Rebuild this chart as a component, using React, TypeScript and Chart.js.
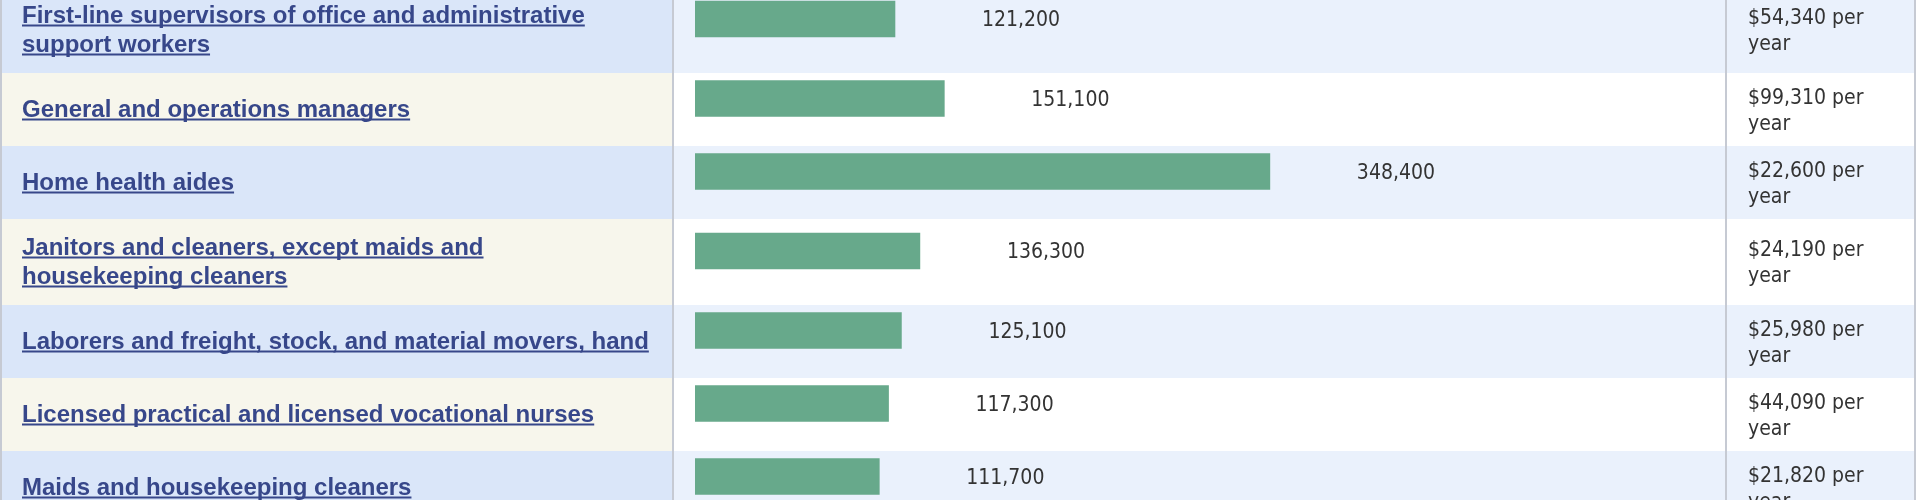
import React, { useEffect, useRef } from "react";
import { Chart, registerables } from "chart.js";

Chart.register(...registerables);

// ---------- DATA ----------
const occupations: string[][] = [
  ["First-line supervisors of office and administrative", "support workers"],
  ["General and operations managers"],
  ["Home health aides"],
  ["Janitors and cleaners, except maids and", "housekeeping cleaners"],
  ["Laborers and freight, stock, and material movers, hand"],
  ["Licensed practical and licensed vocational nurses"],
  ["Maids and housekeeping cleaners"],
];
const employment: number[] = [121200, 151100, 348400, 136300, 125100, 117300, 111700];
const medianWages: string[] = [
  "$54,340 per year",
  "$99,310 per year",
  "$22,600 per year",
  "$24,190 per year",
  "$25,980 per year",
  "$44,090 per year",
  "$21,820 per year",
];

// ---------- LAYOUT / STYLE ----------
const W = 1920;
const H = 500;
const LEFT_COL_END = 673;
const BAR_START = 695;
const RIGHT_COL_START = 1726;
const TABLE_END = 1915;
const X_MAX = 400000;
const PX_PER_UNIT_X = 0.00165;
const ROW_PX = 73; // pixel height of a one-line row (one y unit)
const EXTRA_LINE = 13 / ROW_PX; // additional height per extra label line
const Y_MIN = 13 / ROW_PX; // first row begins slightly above the view
const BAR_LIFT = 11 / ROW_PX; // bar sits a bit above row centre
const LABEL_GAP = 87;

const LEFT_A = "#dae6f9";
const LEFT_B = "#f7f6ec";
const MID_A = "#eaf1fc";
const MID_B = "#ffffff";
const GRID = "#c6cad3";
const BAR = "#67a98b";
const LINK = "#37478a";
const TEXT = "#333333";

const LINK_FONT = 'bold 24px "Liberation Sans", Arial, sans-serif';
const SMALL_FONT = '21px "DejaVu Sans Condensed", "DejaVu Sans", Tahoma, sans-serif';

type Row = { start: number; span: number; center: number };
const rows: Row[] = (() => {
  const out: Row[] = [];
  let s = 0;
  occupations.forEach((lines) => {
    const span = 1 + EXTRA_LINE * (lines.length - 1);
    out.push({ start: s, span, center: s + span / 2 });
    s += span;
  });
  return out;
})();

function wrap(ctx: CanvasRenderingContext2D, text: string, maxW: number): string[] {
  const words = text.split(" ");
  const lines: string[] = [];
  let cur = "";
  words.forEach((w) => {
    const t = cur ? cur + " " + w : w;
    if (ctx.measureText(t).width > maxW && cur) {
      lines.push(cur);
      cur = w;
    } else cur = t;
  });
  if (cur) lines.push(cur);
  return lines;
}

const tablePlugin = {
  id: "tablePlugin",
  beforeDraw(chart: any) {
    const ctx: CanvasRenderingContext2D = chart.ctx;
    const ys = chart.scales.y;
    ctx.save();
    ctx.fillStyle = "#ffffff";
    ctx.fillRect(0, 0, W, H);
    rows.forEach((r, i) => {
      const top = ys.getPixelForValue(r.start);
      const bot = ys.getPixelForValue(r.start + r.span);
      ctx.fillStyle = i % 2 === 0 ? LEFT_A : LEFT_B;
      ctx.fillRect(0, top, LEFT_COL_END, bot - top);
      ctx.fillStyle = i % 2 === 0 ? MID_A : MID_B;
      ctx.fillRect(LEFT_COL_END, top, TABLE_END - LEFT_COL_END, bot - top);
    });
    ctx.strokeStyle = GRID;
    ctx.lineWidth = 2;
    [1, LEFT_COL_END, RIGHT_COL_START, TABLE_END].forEach((x) => {
      ctx.beginPath();
      ctx.moveTo(x, 0);
      ctx.lineTo(x, H);
      ctx.stroke();
    });
    ctx.restore();
  },
  afterDatasetsDraw(chart: any) {
    const ctx: CanvasRenderingContext2D = chart.ctx;
    const ys = chart.scales.y;
    const xs = chart.scales.x;
    ctx.save();
    // occupation links
    ctx.font = LINK_FONT;
    ctx.textAlign = "left";
    ctx.textBaseline = "alphabetic";
    const lineH = 29;
    occupations.forEach((lines, i) => {
      const c = ys.getPixelForValue(rows[i].center);
      const y0 = c - ((lines.length - 1) * lineH) / 2;
      lines.forEach((ln, k) => {
        const base = y0 + k * lineH + 7;
        ctx.fillStyle = LINK;
        ctx.fillText(ln, 22, base);
        const w = ctx.measureText(ln).width;
        ctx.fillRect(22, base + 2, w, 2);
      });
    });
    // values and wages
    ctx.font = SMALL_FONT;
    ctx.fillStyle = TEXT;
    ctx.textBaseline = "middle";
    employment.forEach((v, i) => {
      const bc = ys.getPixelForValue(rows[i].center - BAR_LIFT);
      const x = xs.getPixelForValue(v) + LABEL_GAP;
      ctx.fillText(v.toLocaleString("en-US"), x, bc + 2);
      const wl = wrap(ctx, medianWages[i], TABLE_END - RIGHT_COL_START - 40);
      wl.forEach((t, k) => ctx.fillText(t, RIGHT_COL_START + 22, bc + k * 26));
    });
    ctx.restore();
  },
};

export default function App() {
  const ref = useRef<HTMLCanvasElement | null>(null);
  useEffect(() => {
    if (!ref.current) return;
    const chart = new Chart(ref.current, {
      type: "bar",
      data: {
        datasets: [
          {
            label: "Employment",
            data: employment.map((v, i) => ({ x: v, y: rows[i].center - BAR_LIFT })),
            backgroundColor: BAR,
            borderWidth: 0,
            barThickness: 36,
          },
        ],
      },
      options: {
        indexAxis: "y",
        responsive: false,
        animation: false,
        layout: {
          padding: { left: BAR_START, right: W - BAR_START - X_MAX * PX_PER_UNIT_X, top: 0, bottom: 0 },
        },
        scales: {
          x: { type: "linear", min: 0, max: X_MAX, display: false, offset: false },
          y: {
            type: "linear",
            min: Y_MIN,
            max: Y_MIN + H / ROW_PX,
            reverse: true,
            display: false,
            offset: false,
            grid: { offset: false },
          },
        },
        plugins: { legend: { display: false }, tooltip: { enabled: false } },
      },
      plugins: [tablePlugin],
    } as any);
    return () => chart.destroy();
  }, []);
  return (
    <div style={{ position: "absolute", left: 0, top: 0, width: W, height: H }}>
      <canvas ref={ref} width={W} height={H} style={{ display: "block" }} />
    </div>
  );
}
